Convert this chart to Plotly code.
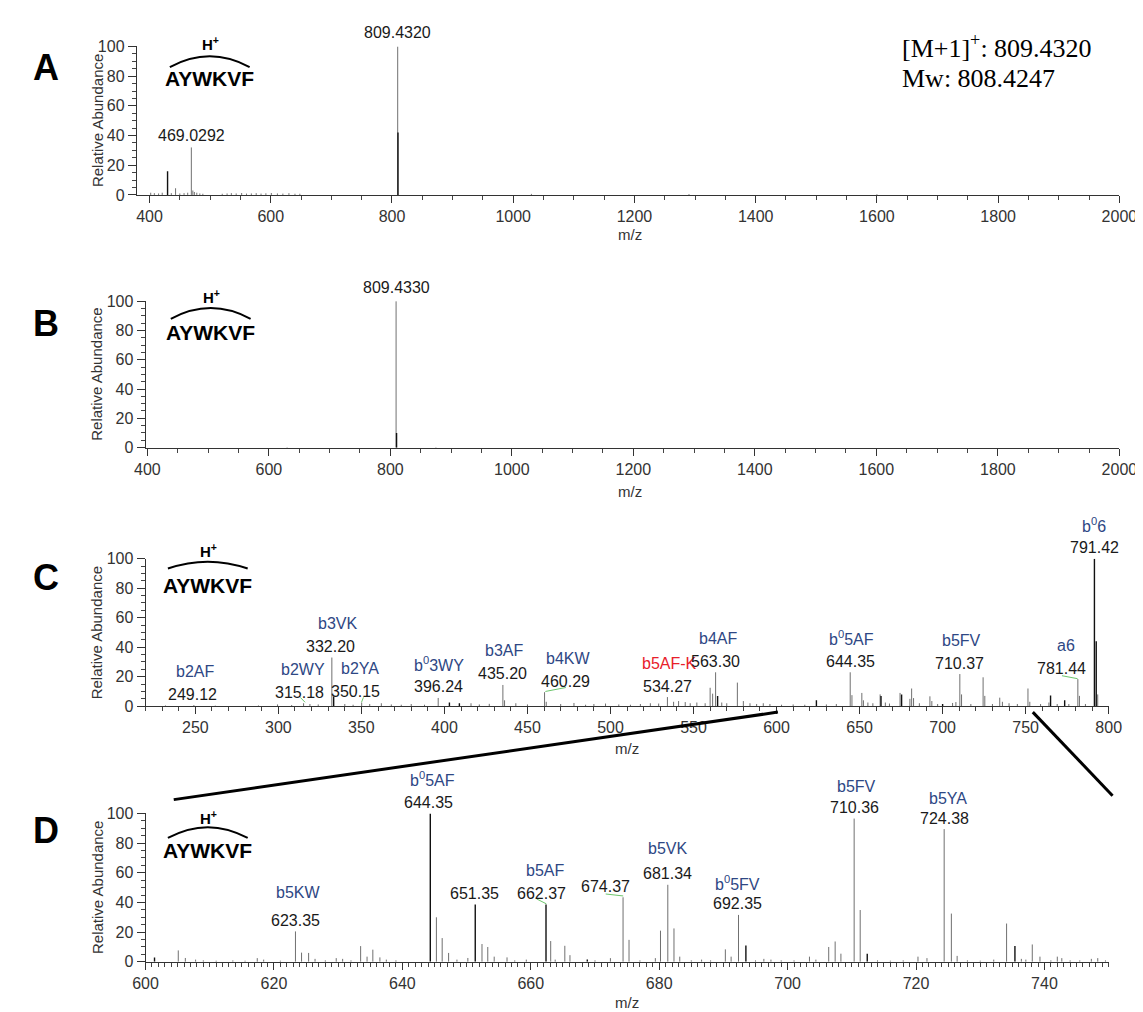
import plotly.graph_objects as go

W, H = 1143, 1012

# ---------------- data ----------------
# Panel A (full MS)
A_gray_mz = [402, 408, 415, 421, 436, 443, 450, 457, 463, 469.03, 471.5, 474, 478, 483, 488,
             520, 528, 535, 543, 552, 560, 568, 576, 584, 592, 601, 611, 620, 630, 640, 648,
             809.43, 1030, 1290, 1600]
A_gray_int = [1.5, 1.2, 1.0, 1.5, 1.2, 4.5, 1.0, 1.2, 1.5, 32, 3, 2, 1.5, 1, 0.8,
              0.8, 1, 1.2, 1, 1.3, 0.9, 1, 1.2, 0.9, 1.1, 1.3, 1.0, 0.9, 1.2, 0.8, 0.8,
              100, 0.7, 0.6, 0.5]
A_dark_mz = [429.8, 809.9]
A_dark_int = [16, 42]
A_lab_mz = [469.03, 809.43]
A_lab_int = [32, 100]
A_lab_txt = ["469.0292", "809.4320"]

# Panel B
B_gray_mz = [809.43, 630, 875]
B_gray_int = [100, 0.4, 0.4]
B_dark_mz = [810.2]
B_dark_int = [10]
B_lab_mz = [809.43]
B_lab_int = [100]
B_lab_txt = ["809.4330"]

# Panel C (MS/MS 220-800)
C_gray_mz = [232, 249.12, 262, 288, 299.5, 308, 315.18, 319, 324, 332.2, 340, 345, 350.15, 355, 362,
             368, 374, 380, 388, 396.24, 416, 421, 427, 435.2, 436.2, 443, 450, 460.29, 461.3,
             470, 478, 485, 490, 497, 505, 512, 518, 524, 529, 534.27, 538, 541, 545, 548, 552, 557,
             560, 561.5, 563.3, 567, 570, 576.4, 580, 584, 588, 592, 596, 603, 610, 617, 630, 636,
             644.35, 645.4, 651.35, 652.3, 655, 658, 662.37, 665.5, 668, 674.37, 680.3, 681.34,
             682.5, 686, 692.35, 693.5, 697, 706, 708, 710.37, 711.4, 717, 724.38, 725.4, 730,
             734.4, 736, 740, 745, 751.4, 752.5, 759, 764, 769, 776, 781.44, 782.4, 786, 793.4]
C_gray_int = [0.5, 0.8, 0.4, 0.5, 1.2, 0.8, 2, 1.5, 1.2, 33, 1.5, 1, 2.5, 1.5, 2,
              1.2, 1, 1.5, 1, 5.6, 2, 1.2, 1.6, 14.4, 4, 2, 1.2, 9.5, 3,
              1.5, 2.2, 1, 1.5, 1.8, 1.2, 1, 1.5, 2, 1.8, 6.2, 3, 3.5, 2.8, 2, 2.5, 2,
              12.5, 8.5, 23, 2.5, 2, 16, 3.5, 2, 1.5, 2, 1.5, 1, 1.2, 1, 1.2, 1.5,
              23, 7.5, 9, 4, 2.5, 2, 8, 2.5, 1.8, 9, 5, 12,
              5.5, 2, 6.7, 3.5, 1.5, 2.2, 2.8, 21.8, 8, 1.5, 19.6, 7, 1.5,
              5.8, 3, 2, 1.5, 12, 3, 1.5, 2.5, 1.5, 1.5, 18.4, 7, 1.5, 8]
C_dark_mz = [333.3, 403, 409, 564.5, 624, 662.9, 675.3, 700, 765, 773.5, 791.42, 792.5]
C_dark_int = [6.5, 2.5, 2, 7, 4, 7, 8, 1.5, 7.3, 4, 100, 44]
C_lab_mz = [249.12, 315.18, 332.2, 350.15, 396.24, 435.2, 460.29, 534.27, 563.3,
            644.35, 710.37, 781.44, 791.42]
C_lab_int = [0.8, 2, 33, 2.5, 5.6, 14.4, 9.5, 6.2, 23, 23, 21.8, 18.4, 100]
C_lab_num = ["249.12", "315.18", "332.20", "350.15", "396.24", "435.20", "460.29", "534.27",
             "563.30", "644.35", "710.37", "781.44", "791.42"]
C_lab_ion = ["b2AF", "b2WY", "b3VK", "b2YA", "b<sup>0</sup>3WY", "b3AF", "b4KW", "b5AF-K",
             "b4AF", "b<sup>0</sup>5AF", "b5FV", "a6", "b<sup>0</sup>6"]

# Panel D (zoom 600-750)
D_gray_mz = [605.1, 606.2, 607.8, 609, 611, 613.6, 615.5, 617.4, 618.4, 621, 623.35, 624.3, 625.4,
             626.4, 628, 629.7, 630.7, 632, 633.5, 634.5, 635.4, 636.5, 637.5, 639, 645.3, 646.2,
             647.2, 648.5, 650.2, 652.4, 653.3, 654.3, 656.3, 657.5, 659.3, 663.1, 663.8, 665.3,
             666.1, 670, 672.4, 674.37, 675.3, 677, 679.4, 680.2, 681.34, 682.3, 683.2, 685,
             686.6, 688, 690.3, 691.2, 692.35, 695, 696.3, 697.4, 699, 701, 703.4, 704.4, 706.4,
             707.4, 708.3, 710.36, 711.3, 714, 716, 718, 720.3, 721.7, 724.38, 725.5, 726.4, 728,
             730, 732.1, 734.1, 736.4, 737.1, 738.1, 739.3, 741, 742, 742.7, 744, 745.5,
             747.3, 748.3, 749.5]
D_gray_int = [7.7, 2.6, 1.5, 1, 0.8, 1, 0.8, 2.5, 1.5, 0.8, 20.5, 6.2, 6,
              2, 1, 2.5, 2, 1, 10.6, 3.5, 8.2, 3, 1.5, 1, 30, 16,
              6, 1.5, 2.6, 12, 10, 3.5, 3, 1, 1.5, 14, 1.5, 10.8,
              4.5, 1, 2.5, 43.5, 14.8, 1, 2.5, 21, 51.9, 22.5, 3.5, 1,
              1.5, 1, 8.4, 3.5, 31.6, 1, 2, 1.5, 1, 1, 3.5, 1.5, 10,
              13.7, 5.5, 96.5, 34.9, 1, 0.8, 1, 3.5, 2.5, 89.4, 32.5, 4, 1,
              0.8, 1.5, 25.8, 2, 1.5, 11.7, 3.5, 1, 3.5, 2.5, 1, 1,
              2, 2.5, 1]
D_dark_mz = [601.4, 644.35, 651.35, 662.37, 668.8, 693.5, 712.4, 735.4]
D_dark_int = [2.9, 100, 38.6, 38.6, 1.5, 11, 5.5, 10.6]
D_lab_mz = [623.35, 644.35, 651.35, 662.37, 674.37, 681.34, 692.35, 710.36, 724.38]
D_lab_int = [20.5, 100, 38.6, 38.6, 43.5, 51.9, 31.6, 96.5, 89.4]
D_lab_num = ["623.35", "644.35", "651.35", "662.37", "674.37", "681.34", "692.35", "710.36", "724.38"]
D_lab_ion = ["b5KW", "b<sup>0</sup>5AF", "", "b5AF", "", "b5VK", "b<sup>0</sup>5FV", "b5FV", "b5YA"]

# ---------------- helpers ----------------
FONT = "Liberation Sans, Arial, sans-serif"
BLUE = "#2e4784"
GRAY = "#707070"
DARK = "#111111"


def fx(xp):
    return xp / W


def fy(yp):
    return 1 - yp / H


def sticks(mz, inten):
    xs, ys = [], []
    for m, v in zip(mz, inten):
        xs += [m, m, None]
        ys += [0, v, None]
    return xs, ys


fig = go.Figure()

panels = [
    # name, gray, dark, x-range, x-domain px, y top px, y bottom px, major, minor, tick0
    ("1", A_gray_mz, A_gray_int, A_dark_mz, A_dark_int, [379, 2000], (119, 1129), 31, 182, 200, 50, 400),
    ("2", B_gray_mz, B_gray_int, B_dark_mz, B_dark_int, [397, 2000], (128, 1129), 290, 439, 200, 50, 400),
    ("3", C_gray_mz, C_gray_int, C_dark_mz, C_dark_int, [220, 800], (128, 1118), 552, 702, 50, 10, 250),
    ("4", D_gray_mz, D_gray_int, D_dark_mz, D_dark_int, [600, 750], (128, 1118), 811, 962, 20, 1, 600),
]

layout_axes = {}
for name, gm, gi, dm, di, xr, xd, ytop, ybot, major, minor, tick0 in panels:
    xa = "x" if name == "1" else "x" + name
    ya = "y" if name == "1" else "y" + name
    gx, gy = sticks(gm, gi)
    dx, dy = sticks(dm, di)
    fig.add_trace(go.Scatter(x=gx, y=gy, mode="lines", line=dict(color=GRAY, width=1),
                             xaxis=xa, yaxis=ya, hoverinfo="skip"))
    fig.add_trace(go.Scatter(x=dx, y=dy, mode="lines", line=dict(color=DARK, width=1.4),
                             xaxis=xa, yaxis=ya, hoverinfo="skip"))
    kx = "xaxis" if name == "1" else "xaxis" + name
    ky = "yaxis" if name == "1" else "yaxis" + name
    layout_axes[kx] = dict(
        domain=[fx(xd[0]), fx(xd[1])], range=xr, anchor=ya,
        tickmode="linear", tick0=tick0, dtick=major, ticks="outside", ticklen=7,
        tickcolor="#333", showline=True, linecolor="#333", linewidth=1,
        showgrid=False, zeroline=False,
        tickfont=dict(family=FONT, size=16, color="#333"),
        minor=dict(dtick=minor, tick0=tick0, ticks="outside", ticklen=4, tickcolor="#444", showgrid=False),
    )
    layout_axes[ky] = dict(
        domain=[fy(ybot), fy(ytop)], range=[0, 100], anchor=xa,
        tickmode="linear", tick0=0, dtick=20, ticks="outside", ticklen=8,
        tickcolor="#333", showline=True, linecolor="#333", linewidth=1,
        showgrid=False, zeroline=False,
        tickfont=dict(family=FONT, size=16, color="#333"),
        minor=dict(dtick=5, ticks="outside", ticklen=4, tickcolor="#444", showgrid=False),
    )

annotations = []
shapes = []


def num_label(xa, ya, mz, inten, text, dy=11, dx=0, color="#1a1a1a"):
    annotations.append(dict(x=mz, y=min(inten, 99.99), xref=xa, yref=ya, text=text, showarrow=False,
                            yshift=dy, xshift=dx, yanchor="middle", xanchor="center",
                            font=dict(family=FONT, size=16, color=color)))


for mz, v, t in zip(A_lab_mz, A_lab_int, A_lab_txt):
    num_label("x", "y", mz, v, t, dy=14 if v >= 100 else 12)
for mz, v, t in zip(B_lab_mz, B_lab_int, B_lab_txt):
    num_label("x2", "y2", mz, v, t, dy=14)

C_num_dx = [-1, -4, -1, -6, 0, 0, 21, 0, 0, 0, 0, -16, 0]
C_ion_dx = [1, -1, 6, -2, 1, 1, 23, 2, 2, 1, 2, -12, 0]
for i, (mz, v, n, ion) in enumerate(zip(C_lab_mz, C_lab_int, C_lab_num, C_lab_ion)):
    num_label("x3", "y3", mz, v, n, dy=11, dx=C_num_dx[i])
    num_label("x3", "y3", mz, v, ion, dy=34, dx=C_ion_dx[i],
              color="#e8202a" if ion == "b5AF-K" else BLUE)

D_num_dx = [0, -2, -1, -5, -18, 0, -1, 0, 0]
D_ion_dx = [3, 2, 0, -1, 0, 0, -1, 2, 4]
D_ion_dy = [39, 34, 34, 34, 34, 36, 32, 32, 31]
for i, (mz, v, n, ion) in enumerate(zip(D_lab_mz, D_lab_int, D_lab_num, D_lab_ion)):
    num_label("x4", "y4", mz, v, n, dy=11, dx=D_num_dx[i])
    if ion:
        num_label("x4", "y4", mz, v, ion, dy=D_ion_dy[i], dx=D_ion_dx[i], color=BLUE)


def paper_text(xp, yp, text, size, color="#000", family=FONT, angle=0, xanchor="center"):
    annotations.append(dict(x=fx(xp), y=fy(yp), xref="paper", yref="paper", text=text,
                            showarrow=False, textangle=angle, xanchor=xanchor, yanchor="middle",
                            font=dict(family=family, size=size, color=color)))


# panel letters, axis titles
for letter, yp in zip("ABCD", [52, 313, 571, 828]):
    paper_text(26, yp, "<b>%s</b>" % letter, 36)
for yp in [106, 364, 627, 886]:
    paper_text(78, yp, "Relative Abundance", 15, color="#333", angle=-90)
for xp, yp in [(626, 222), (626, 484), (623, 745), (623, 1003)]:
    paper_text(xp, yp, "m/z", 15, color="#333")

# peptide motifs: (cx, H+ y, arc end y, arc apex y, text y)
motifs = [(194, 28, 52, 41, 64), (195, 285, 308, 297, 322), (192, 544, 562, 555, 579),
          (192, 815, 836, 825, 849)]
for cx, hy, ae, ap, ty in motifs:
    paper_text(cx + 1, hy, "<b>H<sup>+</sup></b>", 15)
    paper_text(cx, ty, "<b>AYWKVF</b>", 21)
    yc = 2 * ap - ae
    shapes.append(dict(type="path", xref="paper", yref="paper",
                       path="M %f,%f Q %f,%f %f,%f" % (fx(cx - 41), fy(ae), fx(cx), fy(yc), fx(cx + 41), fy(ae)),
                       line=dict(color="#000", width=2)))

# precursor info
SERIF = "Liberation Serif, Times New Roman, serif"
paper_text(904, 31, "[M+1]<sup>+</sup>: 809.4320", 26, family=SERIF, xanchor="left")
paper_text(904, 64, "Mw: 808.4247", 26, family=SERIF, xanchor="left")

# zoom connector lines
for x0, y0, x1, y1 in [(778, 708, 157, 797), (1040, 708, 1122, 793)]:
    shapes.append(dict(type="line", xref="paper", yref="paper", x0=fx(x0), y0=fy(y0), x1=fx(x1), y1=fy(y1),
                       line=dict(color="#000", width=3)))

# small green label connectors
for x0, y0, x1, y1 in [(287, 693, 292, 698), (352, 693, 350, 698), (539, 687, 560, 683),
                       (1070, 671, 1086, 674), (530, 898, 540, 903), (601, 893, 619, 895)]:
    shapes.append(dict(type="line", xref="paper", yref="paper", x0=fx(x0), y0=fy(y0), x1=fx(x1), y1=fy(y1),
                       line=dict(color="#6cc66c", width=1)))

fig.update_layout(
    width=W, height=H, margin=dict(l=0, r=0, t=0, b=0),
    paper_bgcolor="white", plot_bgcolor="white", showlegend=False,
    annotations=annotations, shapes=shapes, **layout_axes,
)

fig.write_html("out.html")
